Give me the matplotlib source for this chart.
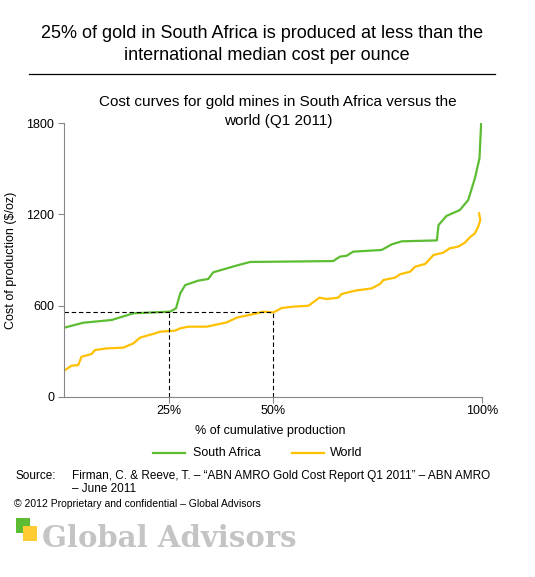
import matplotlib
matplotlib.use("Agg")
import matplotlib.pyplot as plt
from matplotlib.patches import Rectangle
from matplotlib.lines import Line2D

plt.rcParams['font.family'] = ['Liberation Sans', 'DejaVu Sans']

# South Africa cost curve (% cumulative production, $/oz)
sa_x = [0, 4.6, 11.4, 16.6, 25.4, 26.8, 27.8, 29.0, 32.1, 34.5, 35.7, 38.1, 41.5, 44.5,
        64.4, 66.0, 67.6, 69.2, 76.0, 78.4, 80.8, 89.2, 89.6, 91.5, 94.7, 96.7,
        98.3, 99.4, 99.8]
sa_y = [454, 487, 505, 549, 560, 582, 680, 735, 764, 775, 819, 838, 865, 887,
        893, 922, 928, 955, 966, 1003, 1023, 1029, 1130, 1190, 1229, 1295,
        1438, 1569, 1804]

# World cost curve
w_x = [0, 1.8, 3.4, 4.2, 6.6, 7.4, 10.2, 14.2, 16.6, 18.2, 21.8, 23.0, 26.6, 27.8,
       29.7, 34.1, 38.9, 41.3, 46.1, 47.7, 50.1, 52.1, 54.9, 58.5, 61.1, 62.8,
       65.6, 66.4, 69.6, 73.6, 75.6, 76.4, 79.2, 80.4, 82.8, 84.0, 86.4, 88.4,
       90.7, 92.3, 94.3, 95.9, 97.1, 98.3, 99.1, 99.6, 99.3]
w_y = [171, 204, 208, 263, 281, 307, 318, 323, 351, 389, 417, 428, 435, 450,
       461, 461, 489, 520, 549, 560, 555, 584, 593, 599, 652, 643,
       652, 676, 698, 713, 742, 768, 784, 806, 823, 856, 874, 933,
       948, 977, 988, 1014, 1049, 1076, 1120, 1163, 1207]

median_cost = 558
sa_pct = 25
world_pct = 50

y_ticks = [0, 600, 1200, 1800]
x_ticks = [25, 50, 100]
x_ticklabels = ['25%', '50%', '100%']

GREEN = '#5cbd32'
YELLOW = '#ffc000'

fig = plt.figure(figsize=(5.35, 5.77), dpi=100)
W, H = 535, 577

def fx(px):
    return px / W

def fy(py):
    return 1 - py / H

AX_L, AX_R = 64, 482
ax = fig.add_axes([fx(AX_L), fy(396.7), (AX_R - AX_L) / W, (396.7 - 123.3) / H])
ax.plot(sa_x, sa_y, color=GREEN, lw=1.6, solid_joinstyle='round')
ax.plot(w_x, w_y, color=YELLOW, lw=1.6, solid_joinstyle='round')

ax.plot([0, world_pct], [median_cost, median_cost], color='black', lw=0.8, ls=(0, (4, 2.5)))
ax.plot([sa_pct, sa_pct], [0, median_cost], color='black', lw=0.8, ls=(0, (4, 2.5)))
ax.plot([world_pct, world_pct], [0, median_cost], color='black', lw=0.8, ls=(0, (4, 2.5)))

ax.set_xlim(0, 100)
ax.set_ylim(0, 1800)
ax.set_yticks(y_ticks)
ax.set_yticklabels([str(v) for v in y_ticks], fontsize=9)
ax.set_xticks(x_ticks)
ax.set_xticklabels(x_ticklabels, fontsize=9)
for s in ['top', 'right']:
    ax.spines[s].set_visible(False)
for s in ['left', 'bottom']:
    ax.spines[s].set_color('#868686')
    ax.spines[s].set_linewidth(0.8)
ax.tick_params(axis='both', colors='#868686', labelcolor='black', length=4, width=0.8)
ax.tick_params(axis='y', pad=3)
ax.tick_params(axis='x', pad=2)
ax.set_ylabel('Cost of production ($/oz)', fontsize=9)
ax.yaxis.set_label_coords(-(AX_L - 17) / (AX_R - AX_L), 0.5)

# Titles
fig.text(fx(262), fy(33), '25% of gold in South Africa is produced at less than the',
         ha='center', va='center', fontsize=13)
fig.text(fx(267), fy(56), 'international median cost per ounce',
         ha='center', va='center', fontsize=13)
fig.add_artist(Line2D([fx(29), fx(495)], [fy(74), fy(74)], color='black', lw=0.9))
fig.text(fx(278), fy(102), 'Cost curves for gold mines in South Africa versus the',
         ha='center', va='center', fontsize=11)
fig.text(fx(278), fy(121), 'world (Q1 2011)', ha='center', va='center', fontsize=11)

fig.text(fx(270), fy(431), '% of cumulative production', ha='center', va='center', fontsize=9)

# Legend
fig.add_artist(Line2D([fx(153), fx(185)], [fy(453), fy(453)], color=GREEN, lw=1.6))
fig.text(fx(193), fy(453), 'South Africa', ha='left', va='center', fontsize=9)
fig.add_artist(Line2D([fx(292), fx(324)], [fy(453), fy(453)], color=YELLOW, lw=1.6))
fig.text(fx(330), fy(453), 'World', ha='left', va='center', fontsize=9)

# Source
fig.text(fx(16), fy(476), 'Source:', ha='left', va='center', fontsize=8.5)
fig.text(fx(72), fy(476), 'Firman, C. & Reeve, T. \u2013 \u201cABN AMRO Gold Cost Report Q1 2011\u201d \u2013 ABN AMRO',
         ha='left', va='center', fontsize=8.5)
fig.text(fx(72), fy(489), '\u2013 June 2011', ha='left', va='center', fontsize=8.5)
fig.text(fx(14), fy(504), '\u00a9 2012 Proprietary and confidential \u2013 Global Advisors',
         ha='left', va='center', fontsize=7.5)

# Logo
fig.add_artist(Rectangle((fx(16), fy(533)), 14 / W, 15 / H, transform=fig.transFigure,
                         color='#5cbd32', lw=0))
fig.add_artist(Rectangle((fx(23), fy(541)), 14 / W, 15 / H, transform=fig.transFigure,
                         color='#ffcc33', lw=0))
fig.text(fx(42), fy(547), 'Global Advisors', ha='left', va='baseline',
         fontsize=21, fontweight='bold', family='DejaVu Serif', color='#c4c4c4')

fig.savefig('out.png', dpi=100, facecolor='white')
